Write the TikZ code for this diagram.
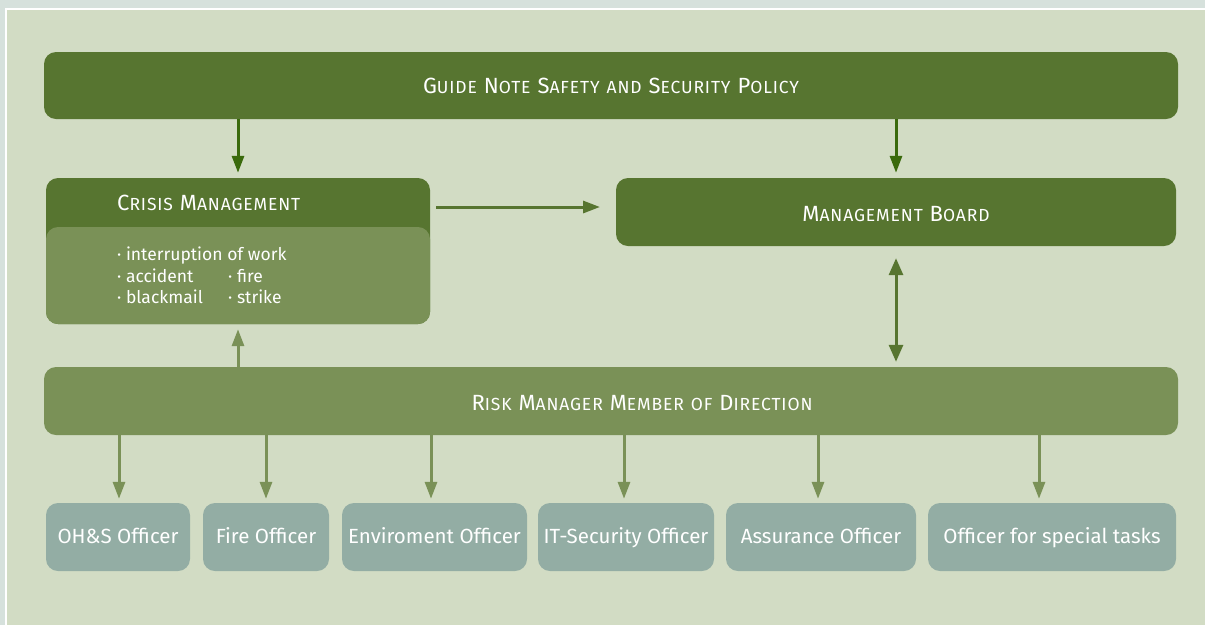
\documentclass[tikz,border=0pt]{standalone}
\usepackage{fontspec}
\setmainfont{Fira Sans}
\newfontfamily\scfont[LetterSpace=5]{Fira Sans}
\usetikzlibrary{arrows.meta}
\definecolor{frame}{HTML}{D6E1DC}
\definecolor{bg}{HTML}{D2DCC4}
\definecolor{dkgreen}{HTML}{577530}
\definecolor{arrgreen}{HTML}{3A6A0C}
\definecolor{ltgreen}{HTML}{7A9157}
\definecolor{officer}{HTML}{93ADA4}
\newcommand\scp[1]{{\fontsize{17.5}{20}\selectfont\MakeUppercase{#1}}}
\tikzset{
  box/.style={rounded corners=12pt, inner sep=0pt, text=white},
  sctext/.style={inner sep=0pt, text=white, font=\scfont\fontsize{22}{26}\selectfont},
  darkbox/.style={box, fill=dkgreen},
  lightbox/.style={box, fill=ltgreen},
  offbox/.style={box, fill=officer, minimum height=68pt, text height=16pt, text depth=4pt,
    font=\fontsize{20.5}{24}\selectfont},
  tip/.style={-{Triangle[length=17pt,width=12pt]}},
  dkarrow/.style={tip, draw=arrgreen, line width=3pt},
  ltarrow/.style={tip, draw=ltgreen, line width=3pt},
}
\begin{document}
\begin{tikzpicture}[x=1pt,y=-1pt]
\useasboundingbox (0,0) rectangle (1205,625);
\fill[frame] (0,0) rectangle (1205,625);
\fill[white] (5,8) rectangle (1205,625);
\fill[bg] (7,10) rectangle (1205,625);

\node[darkbox, minimum width=1134pt, minimum height=67pt] (guide) at (611,85.5) {};
\node[sctext] (guidetext) at (611,86)
  {G\scp{uide} N\scp{ote} S\scp{afety} \scp{and} S\scp{ecurity} P\scp{olicy}};

\node[darkbox, minimum width=384pt, minimum height=146pt] (crisis) at (238,251) {};
\node[lightbox, minimum width=384pt, minimum height=97pt] (crisisbody) at (238,275.5) {};
\node[sctext, anchor=west] (crisistitle) at (117,203)
  {C\scp{risis} M\scp{anagement}};
\node[anchor=north west, inner sep=0pt, text=white, font=\fontsize{17.5}{21.5}\selectfont, align=left] (crisislist) at (117,247)
  {· interruption of work\\
   \makebox[111pt][l]{· accident}· fire\\
   \makebox[111pt][l]{· blackmail}· strike};

\node[darkbox, minimum width=560pt, minimum height=68pt] (board) at (896,212) {};
\node[sctext] (boardtext) at (896,214) {M\scp{anagement} B\scp{oard}};

\node[lightbox, minimum width=1134pt, minimum height=68pt] (risk) at (611,401) {};
\node[sctext] (risktext) at (642,403)
  {R\scp{isk} M\scp{anager} M\scp{ember} \scp{of} D\scp{irection}};

\node[offbox, minimum width=144pt] (oh) at (118,537) {OH\&S Officer};
\node[offbox, minimum width=126pt] (fire) at (266,537) {Fire Officer};
\node[offbox, minimum width=185pt] (env) at (434.5,537) {Enviroment Officer};
\node[offbox, minimum width=176pt] (it) at (626,537) {IT-Security Officer};
\node[offbox, minimum width=190pt] (ass) at (821,537) {Assurance Officer};
\node[offbox, minimum width=248pt] (spec) at (1052,537) {Officer for special tasks};

\coordinate (g1) at (238,119);
\coordinate (g2) at (896,119);
\draw[dkarrow, shorten >=5pt] (g1) -- (crisis.north -| g1);
\draw[dkarrow, shorten >=5pt] (g2) -- (board.north -| g2);

\coordinate (h1) at (430,207);
\coordinate (h2) at (616,207);
\draw[tip, draw=dkgreen, line width=3pt, shorten <=6pt, shorten >=16pt] (h1) -- (h2);

\draw[{Triangle[length=17pt,width=14pt]}-{Triangle[length=17pt,width=14pt]}, draw=dkgreen, line width=3pt, shorten <=12pt, shorten >=5pt]
  (board.south) -- (risk.north -| board.south);

\draw[ltarrow, shorten >=5pt] (risk.north -| crisis.south) -- (crisis.south);

\draw[ltarrow, shorten >=4pt] (risk.south -| 119,0) -- (oh.north -| 119,0);
\draw[ltarrow, shorten >=4pt] (risk.south -| fire.north) -- (fire.north);
\draw[ltarrow, shorten >=4pt] (risk.south -| 431,0) -- (env.north -| 431,0);
\draw[ltarrow, shorten >=4pt] (risk.south -| 624,0) -- (it.north -| 624,0);
\draw[ltarrow, shorten >=4pt] (risk.south -| 818,0) -- (ass.north -| 818,0);
\draw[ltarrow, shorten >=4pt] (risk.south -| 1039,0) -- (spec.north -| 1039,0);
\end{tikzpicture}
\end{document}
